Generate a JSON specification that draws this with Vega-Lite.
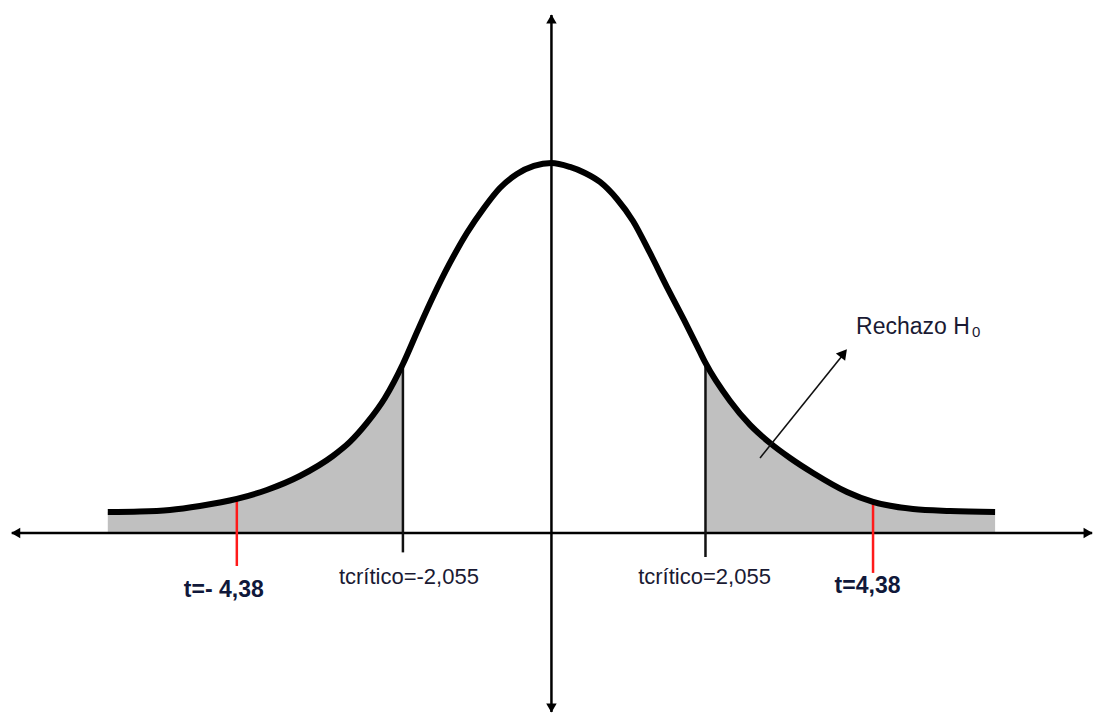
{
  "$schema": "https://vega.github.io/schema/vega-lite/v6.json",
  "width": 1097,
  "height": 715,
  "autosize": {"type": "fit", "contains": "padding"},
  "padding": 0,
  "background": "white",
  "config": {"view": {"stroke": null}},
  "datasets": {
    "curve": [
      {"x": -6.034, "y": 0.0227}, {"x": -5.599, "y": 0.0232}, {"x": -5.19, "y": 0.0249},
      {"x": -4.782, "y": 0.0292}, {"x": -4.279, "y": 0.0368}, {"x": -3.871, "y": 0.0465},
      {"x": -3.422, "y": 0.0616}, {"x": -2.973, "y": 0.0832}, {"x": -2.741, "y": 0.0984},
      {"x": -2.51, "y": 0.1189}, {"x": -2.265, "y": 0.1459}, {"x": -2.02, "y": 0.1827},
      {"x": -1.816, "y": 0.2195}, {"x": -1.612, "y": 0.2551}, {"x": -1.381, "y": 0.2919},
      {"x": -1.15, "y": 0.3243}, {"x": -0.918, "y": 0.3514}, {"x": -0.701, "y": 0.373},
      {"x": -0.469, "y": 0.3881}, {"x": -0.238, "y": 0.3968}, {"x": 0, "y": 0.4},
      {"x": 0.252, "y": 0.3957}, {"x": 0.456, "y": 0.3892}, {"x": 0.66, "y": 0.3795},
      {"x": 0.891, "y": 0.3611}, {"x": 1.109, "y": 0.3373}, {"x": 1.34, "y": 0.3027},
      {"x": 1.571, "y": 0.2659}, {"x": 1.803, "y": 0.2303}, {"x": 2.02, "y": 0.1957},
      {"x": 2.095, "y": 0.1838}, {"x": 2.429, "y": 0.1427}, {"x": 2.701, "y": 0.1168},
      {"x": 2.973, "y": 0.0973}, {"x": 3.245, "y": 0.0811}, {"x": 3.558, "y": 0.0649},
      {"x": 4.02, "y": 0.0443}, {"x": 4.374, "y": 0.0335}, {"x": 4.918, "y": 0.0259},
      {"x": 5.422, "y": 0.0238}, {"x": 6.034, "y": 0.0227}
    ],
    "tailL": [
      {"x": -6.034, "y": 0.0227}, {"x": -5.599, "y": 0.0232}, {"x": -5.19, "y": 0.0249},
      {"x": -4.782, "y": 0.0292}, {"x": -4.279, "y": 0.0368}, {"x": -3.871, "y": 0.0465},
      {"x": -3.422, "y": 0.0616}, {"x": -2.973, "y": 0.0832}, {"x": -2.741, "y": 0.0984},
      {"x": -2.51, "y": 0.1189}, {"x": -2.265, "y": 0.1459}, {"x": -2.02, "y": 0.1827}
    ],
    "tailR": [
      {"x": 2.095, "y": 0.1838}, {"x": 2.429, "y": 0.1427}, {"x": 2.701, "y": 0.1168},
      {"x": 2.973, "y": 0.0973}, {"x": 3.245, "y": 0.0811}, {"x": 3.558, "y": 0.0649},
      {"x": 4.02, "y": 0.0443}, {"x": 4.374, "y": 0.0335}, {"x": 4.918, "y": 0.0259},
      {"x": 5.422, "y": 0.0238}, {"x": 6.034, "y": 0.0227}
    ]
  },
  "encoding": {
    "x": {"field": "x", "type": "quantitative", "scale": {"domain": [-7.5, 7.42], "nice": false, "zero": false}, "axis": null},
    "y": {"field": "y", "type": "quantitative", "scale": {"domain": [-0.1968, 0.5762], "nice": false, "zero": false}, "axis": null}
  },
  "layer": [
    {
      "data": {"name": "tailL"},
      "mark": {"type": "area", "color": "#c0c0c0", "interpolate": "monotone"},
      "encoding": {"y2": {"datum": 0}}
    },
    {
      "data": {"name": "tailR"},
      "mark": {"type": "area", "color": "#c0c0c0", "interpolate": "monotone"},
      "encoding": {"y2": {"datum": 0}}
    },
    {
      "data": {"values": [{"x": -7.34, "x2": 7.354, "y": 0}]},
      "mark": {"type": "rule", "color": "#000000", "strokeWidth": 2.5},
      "encoding": {"x2": {"field": "x2"}}
    },
    {
      "data": {"values": [{"x": 0, "y": 0.56, "y2": -0.1935}]},
      "mark": {"type": "rule", "color": "#000000", "strokeWidth": 2.5},
      "encoding": {"y2": {"field": "y2"}}
    },
    {
      "data": {"values": [{"x": -7.286, "y": 0}]},
      "mark": {"type": "point", "shape": "triangle-left", "filled": true, "color": "#000000", "size": 110, "opacity": 1}
    },
    {
      "data": {"values": [{"x": 7.299, "y": 0}]},
      "mark": {"type": "point", "shape": "triangle-right", "filled": true, "color": "#000000", "size": 110, "opacity": 1}
    },
    {
      "data": {"values": [{"x": 0, "y": 0.5557}]},
      "mark": {"type": "point", "shape": "triangle-up", "filled": true, "color": "#000000", "size": 110, "opacity": 1}
    },
    {
      "data": {"values": [{"x": 0, "y": -0.1892}]},
      "mark": {"type": "point", "shape": "triangle-down", "filled": true, "color": "#000000", "size": 110, "opacity": 1}
    },
    {
      "data": {"values": [
        {"x": -2.02, "y": 0.1827, "y2": -0.021},
        {"x": 2.095, "y": 0.1838, "y2": -0.026}
      ]},
      "mark": {"type": "rule", "color": "#111111", "strokeWidth": 2.5},
      "encoding": {"y2": {"field": "y2"}}
    },
    {
      "data": {"values": [
        {"x": -4.279, "y": 0.0368, "y2": -0.0357},
        {"x": 4.374, "y": 0.0335, "y2": -0.0432}
      ]},
      "mark": {"type": "rule", "color": "#ff1a1a", "strokeWidth": 2.5},
      "encoding": {"y2": {"field": "y2"}}
    },
    {
      "data": {"name": "curve"},
      "mark": {"type": "line", "color": "#000000", "strokeWidth": 6, "interpolate": "monotone"}
    },
    {
      "data": {"values": [{"x": 2.837, "y": 0.0811, "x2": 3.99, "y2": 0.195}]},
      "mark": {"type": "rule", "color": "#111111", "strokeWidth": 1.6},
      "encoding": {"x2": {"field": "x2"}, "y2": {"field": "y2"}}
    },
    {
      "data": {"values": [{"x": 3.975, "y": 0.1944}]},
      "mark": {"type": "point", "shape": "triangle-up", "filled": true, "color": "#000000", "size": 140, "opacity": 1, "angle": 38.6}
    },
    {
      "data": {"values": [
        {"x": -1.939, "y": -0.0476, "label": "tcrítico=-2,055"},
        {"x": 2.082, "y": -0.0476, "label": "tcrítico=2,055"}
      ]},
      "mark": {"type": "text", "font": "Liberation Sans", "fontSize": 22, "color": "#1a1a33", "align": "center", "baseline": "middle"},
      "encoding": {"text": {"field": "label"}}
    },
    {
      "data": {"values": [
        {"x": -4.456, "y": -0.0616, "label": "t=- 4,38"},
        {"x": 4.299, "y": -0.0573, "label": "t=4,38"}
      ]},
      "mark": {"type": "text", "font": "Liberation Sans", "fontSize": 23, "fontWeight": "bold", "color": "#10183a", "align": "center", "baseline": "middle"},
      "encoding": {"text": {"field": "label"}}
    },
    {
      "data": {"values": [{"x": 4.143, "y": 0.2227, "label": "Rechazo H"}]},
      "mark": {"type": "text", "font": "Liberation Sans", "fontSize": 23, "color": "#1a1a33", "align": "left", "baseline": "middle"},
      "encoding": {"text": {"field": "label"}}
    },
    {
      "data": {"values": [{"x": 5.776, "y": 0.2178, "label": "0"}]},
      "mark": {"type": "text", "font": "Liberation Sans", "fontSize": 15, "color": "#1a1a33", "align": "center", "baseline": "middle"},
      "encoding": {"text": {"field": "label"}}
    }
  ]
}
